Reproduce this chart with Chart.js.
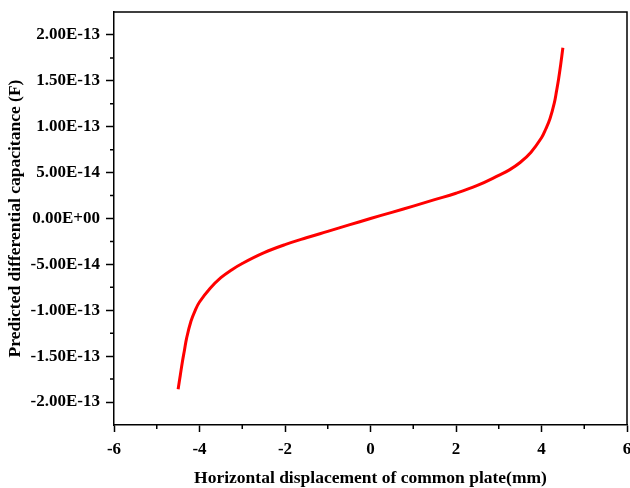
<!DOCTYPE html>
<html>
<head>
<meta charset="utf-8">
<script src="https://cdn.jsdelivr.net/npm/chart.js@4.4.1/dist/chart.umd.min.js"></script>
<style>
  html, body { margin: 0; padding: 0; background: #fff; }
  #wrap { width: 630px; height: 488px; }
</style>
</head>
<body>
<div id="wrap"><canvas id="chart" width="630" height="488"></canvas></div>
<script>
// displacement of the common plate (mm) and predicted capacitance (F)
const displacement = [-4.5, -4.45, -4.4, -4.35, -4.3, -4.2, -4.1, -4.0, -3.75, -3.5, -3.25, -3.0, -2.5, -2.0,
    -1.5, -1.0, -0.5, 0, 0.5, 1.0, 1.5, 2.0, 2.5, 3.0, 3.25, 3.5, 3.75, 4.0, 4.1, 4.2, 4.3, 4.35, 4.4, 4.45, 4.5];
const capacitance = [-1.86e-13, -1.71e-13, -1.56e-13, -1.43e-13, -1.30e-13, -1.12e-13, -1.0e-13, -9.1e-14,
    -7.6e-14, -6.45e-14, -5.6e-14, -4.9e-14, -3.75e-14, -2.85e-14, -2.1e-14, -1.4e-14, -7e-15,
    0, 6.7e-15, 1.35e-14, 2.05e-14, 2.75e-14, 3.6e-14, 4.7e-14, 5.3e-14, 6.1e-14, 7.2e-14,
    8.8e-14, 9.75e-14, 1.09e-13, 1.26e-13, 1.385e-13, 1.52e-13, 1.68e-13, 1.86e-13];

const xMajorTicks = [-6, -4, -2, 0, 2, 4, 6];
const xMinorTicks = [-5, -3, -1, 1, 3, 5];
const yMajorTicks = [-2e-13, -1.5e-13, -1e-13, -5e-14, 0, 5e-14, 1e-13, 1.5e-13, 2e-13];
const yMinorTicks = [-1.75e-13, -1.25e-13, -7.5e-14, -2.5e-14, 2.5e-14, 7.5e-14, 1.25e-13, 1.75e-13];

const xTitle = 'Horizontal displacement of common plate(mm)';
const yTitle = 'Predicted differential capacitance (F)';

const FONT = '"Liberation Serif", "Times New Roman", serif';

function fmtSci(v) {
    if (Math.abs(v) < 1e-20) return '0.00E+00';
    const parts = v.toExponential(2).split('e');
    const exp = parts[1];
    return parts[0] + 'E' + exp[0] + exp.slice(1).padStart(2, '0');
}

// minor ticks, top/right frame and the x title
const framePlugin = {
    id: 'frame',
    afterDraw: function (chart) {
        const ctx = chart.ctx;
        const a = chart.chartArea;
        const xs = chart.scales.x;
        const ys = chart.scales.y;
        ctx.save();
        ctx.strokeStyle = '#000';
        ctx.lineWidth = 1.5;
        ctx.beginPath();
        ctx.moveTo(a.left, a.top);
        ctx.lineTo(a.right, a.top);
        ctx.lineTo(a.right, a.bottom);
        ctx.stroke();

        ctx.beginPath();
        xMinorTicks.forEach(function (v) {
            const px = xs.getPixelForValue(v);
            ctx.moveTo(px, a.bottom);
            ctx.lineTo(px, a.bottom + 4);
        });
        yMinorTicks.forEach(function (v) {
            const py = ys.getPixelForValue(v);
            ctx.moveTo(a.left, py);
            ctx.lineTo(a.left - 4, py);
        });
        ctx.stroke();

        ctx.fillStyle = '#000';
        ctx.font = 'bold 17.5px ' + FONT;
        ctx.textAlign = 'center';
        ctx.textBaseline = 'alphabetic';
        ctx.fillText(xTitle, (a.left + a.right) / 2, 483);
        ctx.restore();
    }
};

const ctx = document.getElementById('chart').getContext('2d');
new Chart(ctx, {
    type: 'line',
    data: {
        datasets: [{
            data: displacement.map(function (x, i) { return {x: x, y: capacitance[i]}; }),
            borderColor: '#ff0000',
            borderWidth: 3,
            pointRadius: 0,
            fill: false,
            tension: 0.4
        }]
    },
    options: {
        responsive: false,
        animation: false,
        layout: {padding: {top: 12, right: 3, left: 0, bottom: 0}},
        plugins: {
            legend: {display: false},
            tooltip: {enabled: false}
        },
        scales: {
            x: {
                type: 'linear',
                min: -6,
                max: 6,
                afterBuildTicks: function (scale) {
                    scale.ticks = xMajorTicks.map(function (v) { return {value: v}; });
                },
                afterFit: function (scale) {
                    scale.height = 63;
                    scale.paddingLeft = 0;
                    scale.paddingRight = 0;
                },
                grid: {drawOnChartArea: false, color: '#000', tickLength: 7, tickWidth: 1.5},
                border: {color: '#000', width: 1.5},
                ticks: {
                    color: '#000',
                    font: {family: FONT, size: 17, weight: 'bold'},
                    padding: 7,
                    maxRotation: 0,
                    autoSkip: false
                }
            },
            y: {
                type: 'linear',
                min: -2.25e-13,
                max: 2.25e-13,
                afterBuildTicks: function (scale) {
                    scale.ticks = yMajorTicks.map(function (v) { return {value: v}; });
                },
                afterFit: function (scale) {
                    scale.width = 114;
                    scale.paddingTop = 0;
                    scale.paddingBottom = 0;
                },
                grid: {drawOnChartArea: false, color: '#000', tickLength: 8, tickWidth: 1.5},
                border: {color: '#000', width: 1.5},
                ticks: {
                    color: '#000',
                    font: {family: FONT, size: 17, weight: 'bold'},
                    padding: 6,
                    autoSkip: false,
                    callback: function (v) { return fmtSci(v); }
                },
                title: {
                    display: true,
                    text: yTitle,
                    color: '#000',
                    font: {family: FONT, size: 17.5, weight: 'bold'},
                    padding: {top: 5, bottom: 0}
                }
            }
        }
    },
    plugins: [framePlugin]
});
</script>
</body>
</html>
